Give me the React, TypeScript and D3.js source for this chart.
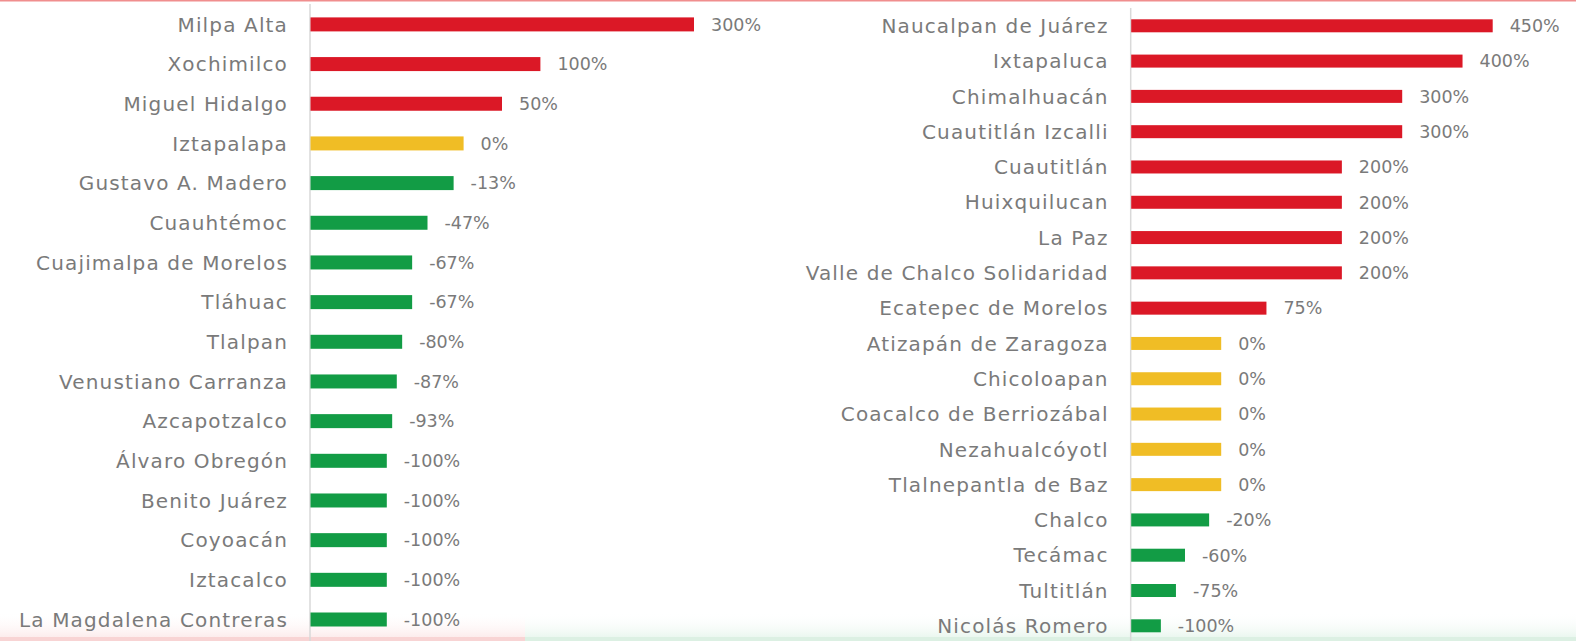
import React from "react";
import * as d3 from "d3";

const leftCategories = [
  "Milpa Alta", "Xochimilco", "Miguel Hidalgo", "Iztapalapa", "Gustavo A. Madero",
  "Cuauhtémoc", "Cuajimalpa de Morelos", "Tláhuac", "Tlalpan", "Venustiano Carranza",
  "Azcapotzalco", "Álvaro Obregón", "Benito Juárez", "Coyoacán", "Iztacalco",
  "La Magdalena Contreras",
];
const leftValues = [300, 100, 50, 0, -13, -47, -67, -67, -80, -87, -93, -100, -100, -100, -100, -100];

const rightCategories = [
  "Naucalpan de Juárez", "Ixtapaluca", "Chimalhuacán", "Cuautitlán Izcalli", "Cuautitlán",
  "Huixquilucan", "La Paz", "Valle de Chalco Solidaridad", "Ecatepec de Morelos",
  "Atizapán de Zaragoza", "Chicoloapan", "Coacalco de Berriozábal", "Nezahualcóyotl",
  "Tlalnepantla de Baz", "Chalco", "Tecámac", "Tultitlán", "Nicolás Romero",
];
const rightValues = [450, 400, 300, 300, 200, 200, 200, 200, 75, 0, 0, 0, 0, 0, -20, -60, -75, -100];

const RED = "#DB1826";
const YELLOW = "#F0BD25";
const GREEN = "#129C45";
const TEXT = "#7A7A7A";
const AXIS = "#D9D9D9";

const color = (v: number) => (v > 0 ? RED : v === 0 ? YELLOW : GREEN);

type PanelProps = {
  cats: string[];
  vals: number[];
  domain: [number, number];
  xRange: [number, number];
  yRange: [number, number];
  barH: number;
  axisTop: number;
};

function Panel({ cats, vals, domain, xRange, yRange, barH, axisTop }: PanelProps) {
  const x = d3.scaleLinear().domain(domain).range(xRange);
  const y = d3.scalePoint<string>().domain(cats).range(yRange);
  const x0 = x(domain[0]);
  return (
    <g>
      <line x1={x0} x2={x0} y1={axisTop} y2={641} stroke={AXIS} strokeWidth={1.5} />
      {cats.map((c, i) => {
        const cy = y(c)!;
        const v = vals[i];
        const xe = x(v);
        return (
          <g key={c}>
            <rect x={x0 + 0.5} y={cy - barH / 2} width={xe - x0 - 0.5} height={barH} fill={color(v)} />
            <text
              x={x0 - 22}
              y={cy}
              dy="0.36em"
              textAnchor="end"
              fill={TEXT}
              fontFamily="'DejaVu Sans', sans-serif"
              fontSize={20}
              letterSpacing={1.15}
            >
              {c}
            </text>
            <text
              x={xe + 17}
              y={cy}
              dy="0.36em"
              fill={TEXT}
              fontFamily="'DejaVu Sans', sans-serif"
              fontSize={17.5}
            >
              {`${v}%`}
            </text>
          </g>
        );
      })}
    </g>
  );
}

export default function App() {
  React.useEffect(() => {
    document.body.style.margin = "0";
  }, []);
  return (
    <svg width={1576} height={641} style={{ position: "absolute", left: 0, top: 0, display: "block", background: "#fff" }}>
      <defs>
        <linearGradient id="bottomFade" x1="0" y1="0" x2="0" y2="1">
          <stop offset="0" stopColor="#ffffff" stopOpacity={0} />
          <stop offset="1" stopColor="#fbe6e6" stopOpacity={1} />
        </linearGradient>
        <linearGradient id="bottomFadeG" x1="0" y1="0" x2="0" y2="1">
          <stop offset="0" stopColor="#ffffff" stopOpacity={0} />
          <stop offset="1" stopColor="#e4f4ea" stopOpacity={1} />
        </linearGradient>
      </defs>
      <rect x={0} y={612} width={525} height={29} fill="url(#bottomFade)" />
      <rect x={525} y={612} width={1051} height={29} fill="url(#bottomFadeG)" />
      <rect x={0} y={637} width={525} height={4} fill="#f8d4d4" />
      <rect x={525} y={637} width={1051} height={4} fill="#dcf0e3" />
      <rect x={0} y={0} width={1576} height={1.5} fill="#F08E8E" />
      <Panel
        cats={leftCategories}
        vals={leftValues}
        domain={[-200, 300]}
        xRange={[310, 694]}
        yRange={[24.4, 619.5]}
        barH={14}
        axisTop={4}
      />
      <Panel
        cats={rightCategories}
        vals={rightValues}
        domain={[-150, 450]}
        xRange={[1130.7, 1492.7]}
        yRange={[25.8, 625.8]}
        barH={13}
        axisTop={8}
      />
    </svg>
  );
}
